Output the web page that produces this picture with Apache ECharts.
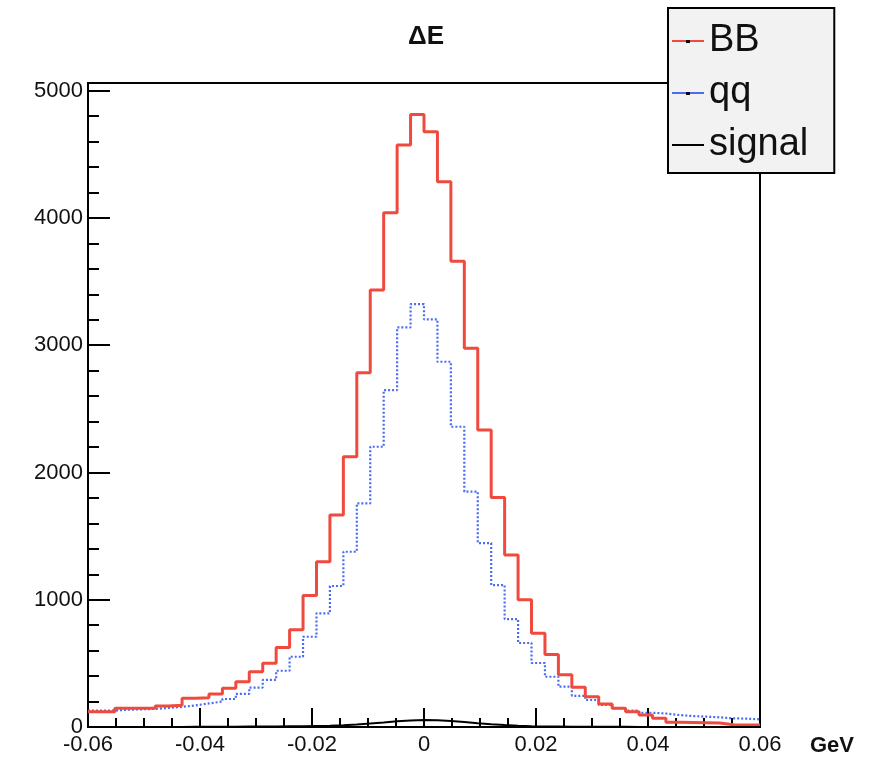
<!DOCTYPE html>
<html>
<head>
<meta charset="utf-8">
<script src="https://cdn.jsdelivr.net/npm/echarts@6/dist/echarts.min.js"></script>
<style>
  html, body { margin: 0; padding: 0; background: #fff; }
  #chart { width: 878px; height: 760px; }
</style>
</head>
<body>
<div id="chart"></div>
<script>
// 50 bins from -0.06 to 0.06 GeV
const xMin = -0.06;
const xMax = 0.06;
const nBins = 50;

const bbCounts = [120, 120, 147, 147, 147, 165, 170, 225, 230, 259,
    304, 356, 434, 500, 625, 765, 1033, 1299, 1665, 2123,
    2783, 3433, 4040, 4572, 4813, 4677, 4284, 3660, 2975, 2333,
    1804, 1351, 1000, 736, 570, 410, 312, 238, 181, 147,
    120, 94, 68, 38, 36, 34, 32, 18, 16, 15];

const qqCounts = [128, 130, 136, 139, 142, 150, 158, 170, 185, 200,
    220, 260, 310, 370, 442, 552, 709, 893, 1108, 1377,
    1757, 2202, 2647, 3140, 3323, 3203, 2870, 2359, 1849, 1445,
    1115, 848, 660, 503, 395, 317, 245, 212, 173, 148,
    128, 112, 106, 94, 86, 81, 76, 68, 66, 60];

const signalCounts = [0, 0, 0, 0, 0, 0, 0, 1, 1, 2,
    2, 3, 3, 4, 5, 6, 8, 10, 14, 20,
    28, 35, 45, 52, 55, 54, 48, 40, 30, 22,
    15, 10, 6, 4, 3, 2, 2, 1, 1, 1,
    0, 0, 0, 0, 0, 0, 0, 0, 0, 0];

const yTicks = [0, 1000, 2000, 3000, 4000, 5000];

const binWidth = (xMax - xMin) / nBins;

// step line points: left edge of every bin, then the right edge of the last one
function toSteps(counts) {
    const pts = counts.map(function (v, i) {
        return [xMin + i * binWidth, v];
    });
    pts.push([xMax, counts[counts.length - 1]]);
    return pts;
}

const chart = echarts.init(document.getElementById('chart'));
const font = 'Liberation Sans, Arial, sans-serif';
const lineIcon = 'path://M0,18 L32,18 L32,20 L0,20 Z';

const option = {
    animation: false,
    title: {
        text: 'ΔE',
        left: 421,
        top: 19,
        textAlign: 'center',
        textStyle: { fontFamily: font, fontSize: 26, fontWeight: 'bold', color: '#111' }
    },
    grid: {
        left: 88,
        right: 118,
        top: 83,
        bottom: 33,
        show: true,
        borderColor: '#000',
        borderWidth: 2,
        backgroundColor: '#fff'
    },
    legend: {
        orient: 'vertical',
        left: 668,
        top: 8,
        padding: [14, 26, 9, 4],
        itemGap: 14,
        itemWidth: 32,
        itemHeight: 38,
        backgroundColor: '#f2f2f2',
        borderColor: '#000',
        borderWidth: 2,
        textStyle: { fontFamily: font, fontSize: 38, color: '#111' },
        data: [
            { name: 'BB', icon: lineIcon },
            { name: 'qq', icon: lineIcon },
            { name: 'signal', icon: lineIcon }
        ]
    },
    // little black markers in the middle of the BB and qq legend lines
    graphic: [
        { type: 'rect', left: 686, top: 40, shape: { width: 4, height: 3 }, style: { fill: '#000' }, z: 100 },
        { type: 'rect', left: 686, top: 92, shape: { width: 4, height: 3 }, style: { fill: '#000' }, z: 100 }
    ],
    xAxis: {
        type: 'value',
        min: xMin,
        max: xMax,
        interval: 0.02,
        name: 'GeV',
        nameLocation: 'end',
        nameGap: 50,
        nameTextStyle: {
            fontFamily: font, fontSize: 22, fontWeight: 'bold', color: '#111',
            verticalAlign: 'top', padding: [8, 0, 0, 0]
        },
        axisLine: { onZero: false, lineStyle: { color: '#000', width: 2 } },
        axisTick: { inside: true, length: 19, lineStyle: { color: '#000', width: 2 } },
        minorTick: { show: true, splitNumber: 4, length: 9, lineStyle: { color: '#000', width: 2 } },
        splitLine: { show: false },
        axisLabel: {
            fontFamily: font, fontSize: 22, color: '#111', margin: 7,
            formatter: function (v) { return String(+v.toFixed(2)); }
        }
    },
    yAxis: {
        type: 'value',
        min: 0,
        max: 5060,
        interval: 1000,
        axisLine: { onZero: false, lineStyle: { color: '#000', width: 2 } },
        axisTick: { inside: true, length: 22, lineStyle: { color: '#000', width: 2 } },
        minorTick: { show: true, splitNumber: 5, length: 11, lineStyle: { color: '#000', width: 2 } },
        splitLine: { show: false },
        axisLabel: {
            fontFamily: font, fontSize: 22, color: '#111', margin: 5,
            formatter: function (v) { return yTicks.indexOf(v) >= 0 ? String(v) : ''; }
        }
    },
    series: [
        {
            name: 'BB',
            type: 'line',
            step: 'end',
            showSymbol: false,
            data: toSteps(bbCounts),
            itemStyle: { color: '#f04a3e' },
            lineStyle: { color: '#f04a3e', width: 3 },
            z: 3
        },
        {
            name: 'qq',
            type: 'line',
            step: 'end',
            showSymbol: false,
            data: toSteps(qqCounts),
            itemStyle: { color: '#4a6cf0' },
            lineStyle: { color: '#4a6cf0', width: 2.2, type: [2, 2] },
            z: 2
        },
        {
            name: 'signal',
            type: 'line',
            step: 'end',
            showSymbol: false,
            data: toSteps(signalCounts),
            itemStyle: { color: '#000' },
            lineStyle: { color: '#000', width: 2 },
            z: 4
        }
    ]
};

chart.setOption(option);
</script>
</body>
</html>
